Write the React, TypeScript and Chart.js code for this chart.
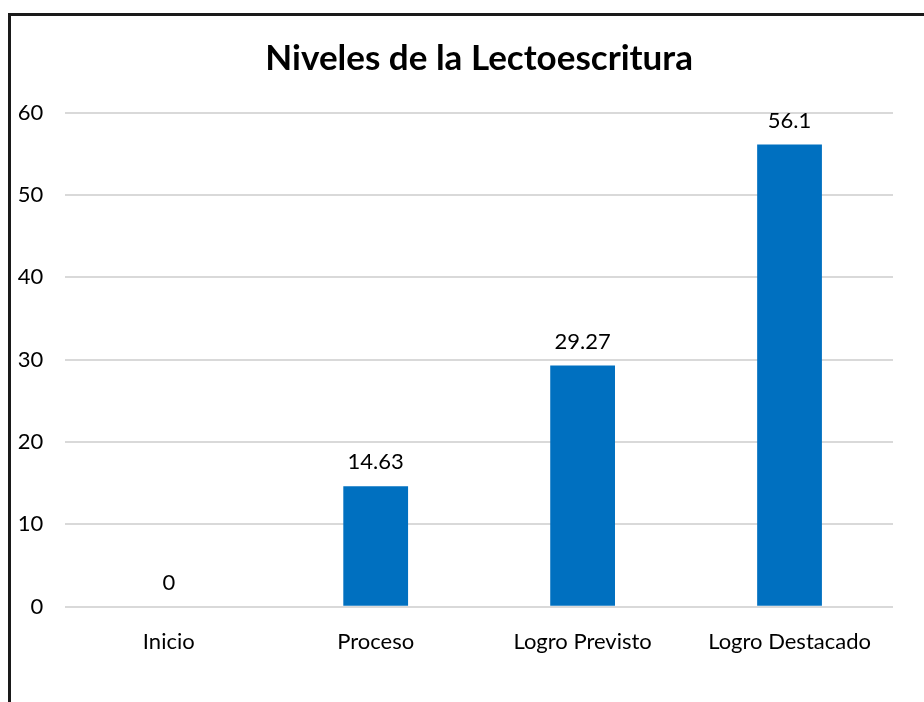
import React, { useEffect, useRef } from "react";
import { Chart, registerables } from "chart.js";

Chart.register(...registerables);

const titleText = "Niveles de la Lectoescritura";
const categories = ["Inicio", "Proceso", "Logro Previsto", "Logro Destacado"];
const values = [0, 14.63, 29.27, 56.1];
const yMin = 0;
const yMax = 60;
const yStep = 10;

const FONT = "Lato, 'Open Sans', sans-serif";

const valueLabels = {
  id: "valueLabels",
  afterDatasetsDraw(chart: any) {
    const ctx = chart.ctx;
    const meta = chart.getDatasetMeta(0);
    ctx.save();
    ctx.font = `22px ${FONT}`;
    ctx.fillStyle = "#000";
    ctx.textAlign = "center";
    ctx.textBaseline = "alphabetic";
    meta.data.forEach((bar: any, i: number) => {
      const v = chart.data.datasets[0].data[i];
      ctx.fillText(String(v), bar.x, bar.y - 17);
    });
    ctx.restore();
  },
};

export default function App() {
  const ref = useRef<HTMLCanvasElement | null>(null);

  useEffect(() => {
    if (!ref.current) return;
    const chart = new Chart(ref.current, {
      type: "bar",
      data: {
        labels: categories,
        datasets: [
          {
            data: values,
            backgroundColor: "#0070C0",
            barPercentage: 0.313,
            categoryPercentage: 1,
          },
        ],
      },
      options: {
        animation: false,
        responsive: false,
        maintainAspectRatio: false,
        layout: { padding: { left: 0, right: 31, top: 0, bottom: 0 } },
        plugins: {
          legend: { display: false },
          tooltip: { enabled: false },
          title: {
            display: true,
            fullSize: false,
            text: titleText,
            color: "#000",
            font: { family: FONT, size: 35, weight: "bold", lineHeight: 1.2 },
            padding: { top: 38, bottom: 32.5 },
          },
        },
        scales: {
          x: {
            grid: { display: false, drawTicks: false },
            border: { display: false },
            ticks: {
              color: "#000",
              font: { family: FONT, size: 22 },
              padding: 22,
              maxRotation: 0,
            },
            afterFit: (s: any) => {
              s.height = 95.3;
            },
          },
          y: {
            min: yMin,
            max: yMax,
            ticks: {
              stepSize: yStep,
              color: "#000",
              font: { family: FONT, size: 22 },
              padding: 22,
            },
            grid: { color: "#d9d9d9", lineWidth: 2, drawTicks: false },
            border: { display: false },
            afterFit: (s: any) => {
              s.width = 65.3;
            },
          },
        },
      },
      plugins: [valueLabels],
    });
    return () => chart.destroy();
  }, []);

  return (
    <div
      style={{
        position: "fixed",
        left: 0,
        top: 0,
        width: 924,
        height: 702,
        overflow: "hidden",
        background: "#fff",
      }}
    >
      <div
        style={{
          position: "absolute",
          left: 8,
          top: 13,
          width: 1000,
          height: 1000,
          border: "3px solid #1a1a1a",
        }}
      />
      <canvas
        ref={ref}
        width={924}
        height={702}
        style={{ position: "absolute", left: 0, top: 0, width: 924, height: 702 }}
      />
    </div>
  );
}
